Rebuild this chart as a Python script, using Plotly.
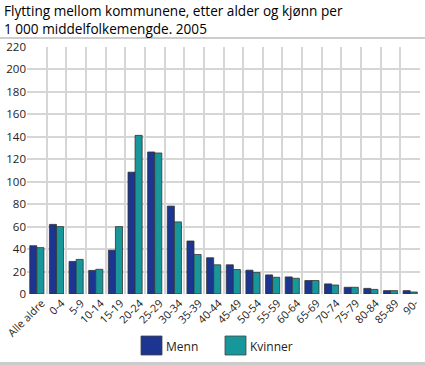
import plotly.graph_objects as go

categories = ["Alle aldre", "0-4", "5-9", "10-14", "15-19", "20-24", "25-29", "30-34",
              "35-39", "40-44", "45-49", "50-54", "55-59", "60-64", "65-69", "70-74",
              "75-79", "80-84", "85-89", "90-"]
menn = [43, 62, 29, 21, 39, 108.5, 126.5, 78.3, 47.2, 32.3, 26, 21.2, 17, 15.2, 12, 9, 6, 5, 3, 3]
kvinner = [41.3, 60, 30.8, 22, 60, 141.3, 125.6, 64.2, 35.2, 26, 21.8, 19.1, 14.9, 14, 12, 8, 6, 4.1, 3, 1.8]
series_names = ["Menn", "Kvinner"]
colors = ["#1c3591", "#18979a"]
title_lines = ["Flytting mellom kommunene, etter alder og kjønn per", "1 000 middelfolkemengde. 2005"]

FONT = "Open Sans"
PW, PH = 393, 247  # plot area pixels


def px_x(x):
    return (x - 27) / PW


def px_y(y):
    return (294 - y) / PH


fig = go.Figure()
for name, vals, col in zip(series_names, [menn, kvinner], colors):
    fig.add_trace(go.Bar(
        x=categories, y=vals, name=name,
        marker=dict(color=col, line=dict(color="#333333", width=0.8)),
        showlegend=False,
    ))

fig.update_layout(
    width=425, height=365,
    margin=dict(l=27, r=5, t=47, b=71, autoexpand=False),
    paper_bgcolor="white", plot_bgcolor="white",
    barmode="group", bargap=0.28, bargroupgap=0,
    font=dict(family=FONT, size=11.5, color="#222222"),
    xaxis=dict(type="category", tickson="boundaries", showgrid=True, gridcolor="#d6d6d6",
               gridwidth=1.5, tickangle=-45, ticks="", showline=False, zeroline=False,
               automargin=False, ticklabelshift=5, tickfont=dict(size=10.8, color="#222222")),
    yaxis=dict(range=[0, 220], dtick=20, showgrid=True, gridcolor="#d6d6d6", gridwidth=1.5,
               ticks="", showline=False, zeroline=False, automargin=False,
               tickfont=dict(size=11.5, color="#222222")),
)

# title
fig.add_annotation(xref="paper", yref="paper", x=px_x(2), y=px_y(-1), xanchor="left", yanchor="top",
                   text="<br>".join(title_lines), showarrow=False, align="left",
                   font=dict(family=FONT, size=13.6, color="#000000"))

# separator lines
fig.add_shape(type="line", xref="paper", yref="paper", x0=px_x(0), x1=px_x(425),
              y0=px_y(38), y1=px_y(38), line=dict(color="#bdbdbd", width=1.5))
fig.add_shape(type="line", xref="paper", yref="paper", x0=px_x(0), x1=px_x(425),
              y0=px_y(363.5), y1=px_y(363.5), line=dict(color="#cccccc", width=3))

# legend
leg_x = [141, 225]
for name, col, lx in zip(series_names, colors, leg_x):
    fig.add_shape(type="rect", xref="paper", yref="paper", x0=px_x(lx), x1=px_x(lx + 21),
                  y0=px_y(355), y1=px_y(336),
                  fillcolor=col, line=dict(color="#444444", width=0.8))
    fig.add_annotation(xref="paper", yref="paper", x=px_x(lx + 23), y=px_y(346),
                       text=name, showarrow=False, xanchor="left", yanchor="middle",
                       font=dict(family=FONT, size=12, color="#222222"))

fig.write_html("out.html", config={"displayModeBar": False},
               post_script="document.body.style.margin='0';")
